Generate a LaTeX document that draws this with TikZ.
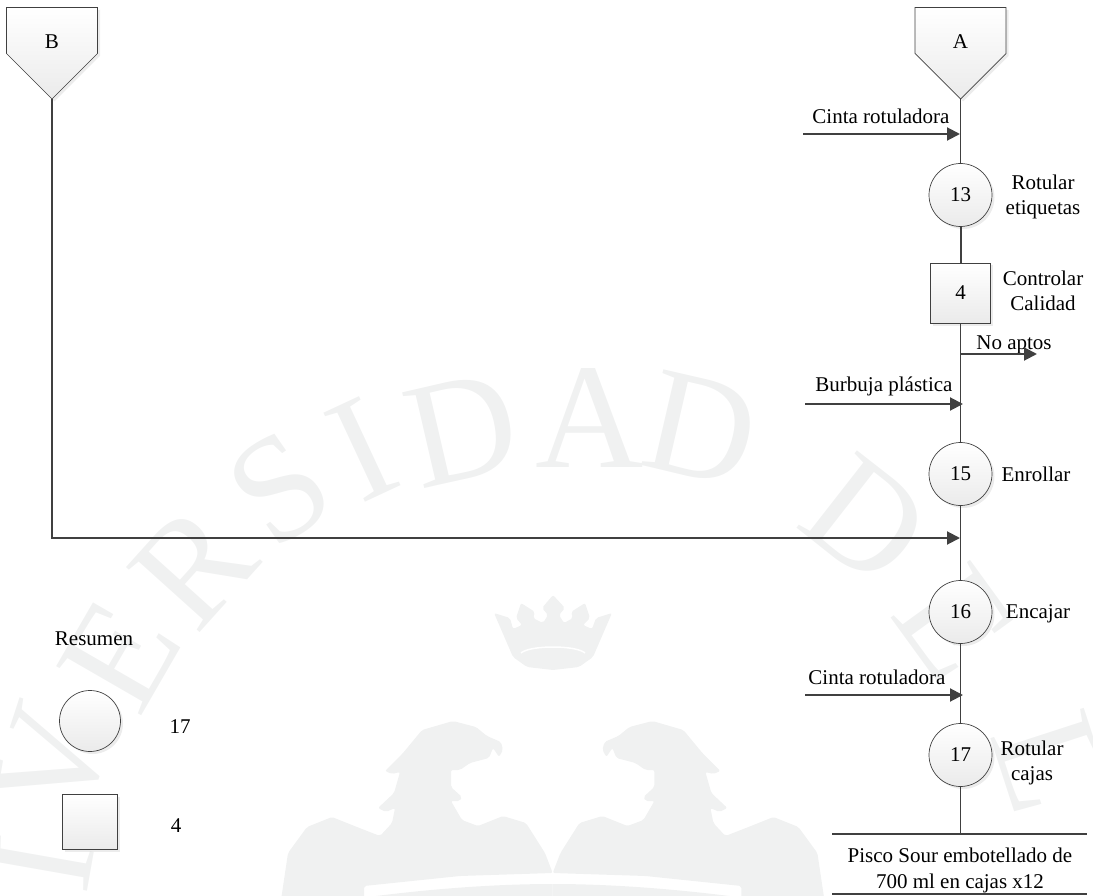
\documentclass[tikz,border=0pt]{standalone}
\usepackage{fontspec}
\setmainfont{Liberation Serif}
\usepackage{xcolor}
\usepackage{tikz}
\usetikzlibrary{shapes,arrows,arrows.meta,positioning,calc,shadows}

\definecolor{linegray}{HTML}{404040}
\definecolor{wmgray}{HTML}{F0F1F1}
\tikzset{
    x=1pt, y=-1pt,
    every node/.style={font=\fontsize{21}{25}\selectfont, align=center, inner sep=0pt, outer sep=0pt},
    figbox/.style={draw=linegray, line width=0.7pt, top color=white, bottom color=black!8,
        drop shadow={opacity=0.15, shadow xshift=2.5pt, shadow yshift=-2.5pt}},
    opcircle/.style={figbox, circle, minimum size=63pt},
    opsquare/.style={figbox, rectangle, minimum size=60pt},
    offpage/.style={figbox, signal, signal from=nowhere, signal to=south, signal pointer angle=90,
        text width=91pt, text height=41pt, text depth=5pt},
    flowline/.style={draw=linegray, line width=1.1pt},
    inarrow/.style={draw=linegray, line width=2pt, -{Triangle[length=13pt,width=13pt]}},
    endline/.style={draw=linegray, line width=1.6pt},
    wmletter/.style={text=wmgray, font=\fontsize{150}{150}\selectfont},
    eagle/.pic={
        \fill[wmgray, rounded corners=2pt] (281,900) -- (288,853) -- (307,827) -- (332,817) -- (357,827)
            -- (380,836) -- (392,823) -- (395,808) -- (386,812) -- (378,808) -- (394,793) -- (400,772)
            -- (392,774) -- (385,771) -- (403,753) -- (422,730) -- (453,721) -- (476,727) -- (487,736)
            -- (501,742) -- (503,750) -- (499,757) -- (493,748) -- (489,758) -- (470,763) -- (460,770)
            -- (451,770) -- (451,787) -- (462,797) -- (460,801) -- (451,801) -- (462,820) -- (478,826)
            -- (503,816) -- (526,823) -- (545,853) -- (552.7,873) -- (460,876) -- (364,886) -- (364,900) -- cycle;
        \fill[wmgray] (376,900) -- (376,896) .. controls (440,888) and (500,884) .. (552.7,884) -- (552.7,900) -- cycle;
    },
}

\begin{document}
\begin{tikzpicture}
    \useasboundingbox (0,0) rectangle (1093,896);
    % watermark
    \node (wI) [wmletter, rotate=80] at (42,863) {I};
    \node (wV) [wmletter, rotate=72] at (52,763) {V};
    \node (wE) [wmletter, rotate=60] at (120,655) {E};
    \node (wR) [wmletter, rotate=48] at (193,566) {R};
    \node (wS) [wmletter, rotate=35] at (280,488) {S};
    \node (wJ) [wmletter, rotate=25] at (362,449) {I};
    \node (wD) [wmletter, rotate=13] at (462,430) {D};
    \node (wA) [wmletter, rotate=0] at (590,418) {A};
    \node (wG) [wmletter, rotate=-13] at (701,429) {D};
    \node (wH) [wmletter, rotate=-38] at (866,520) {D};
    \node (wK) [wmletter, rotate=-54] at (955,623) {E};
    \node (wL) [wmletter, rotate=-72] at (1050,763) {L};
    \fill[wmgray, rounded corners=2pt] (494,613) -- (510,618) -- (513,629) -- (522,625) -- (516,618) -- (521,603)
        -- (535,612) -- (533,618) -- (543,623) -- (548,615) -- (542,608) -- (553,595) -- (565,608) -- (559,615)
        -- (564,623) -- (573,618) -- (571,612) -- (585,603) -- (590,618) -- (583,625) -- (592,629) -- (596,618)
        -- (612,613) -- (593,657) -- (579,667) -- (553,670) -- (527,667) -- (513,657) -- cycle;
    \draw[white, line width=1.5pt] (521,653) .. controls (530,645) and (576,645) .. (585,653);
    \pic at (0,0) {eagle};
    \pic[xscale=-1] at (1105.4,0) {eagle};
    % off-page connectors
    \node (B) [offpage, anchor=south] at (52,99) {B};
    \node (A) [offpage, anchor=south] at (960.5,99) {A};
    % main column
    \node (op13) [opcircle] at (960.5,195) {13};
    \node (ctl4) [opsquare] at (960.5,293) {4};
    \node (op15) [opcircle] at (960.5,474) {15};
    \node (op16) [opcircle] at (960.5,612) {16};
    \node (op17) [opcircle] at (960.5,755) {17};
    % end product
    \coordinate (endl) at (832,834);
    \coordinate (endr) at (1087,834);
    \coordinate (endm) at (960.5,834);
    \coordinate (bl) at (832,894);
    \coordinate (br) at (1087,894);
    \node (prod) at (960,870) {Pisco Sour embotellado de\\[1pt]700 ml en cajas x12};
    % step labels
    \node (t13) at (1043,197) {Rotular\\etiquetas};
    \node (t4) at (1043,291) {Controlar\\Calidad};
    \node (t15) at (1036,474) {Enrollar};
    \node (t16) at (1038,614) {Encajar};
    \node (t17) at (1032,763) {Rotular\\cajas};
    % inputs
    \coordinate (s1) at (803,134);
    \coordinate (e1) at (960,134);
    \node (cinta1) at (881,116) {Cinta rotuladora};
    \coordinate (s2) at (805,404);
    \coordinate (e2) at (963,404);
    \node (burbuja) at (884,386) {Burbuja plástica};
    \coordinate (s3) at (805,695);
    \coordinate (e3) at (963,695);
    \node (cinta2) at (877,677) {Cinta rotuladora};
    \coordinate (s4) at (960,354);
    \coordinate (e4) at (1037,354);
    \node (noaptos) at (1014,345) {No aptos};
    \coordinate (corner) at (52,538);
    \coordinate (e5) at (960,538);
    % summary
    \node (res) at (94,639) {Resumen};
    \node (sumc) [opcircle, minimum size=61pt] at (90,721) {};
    \node (sums) [opsquare, minimum size=55pt] at (89.5,821.5) {};
    \node (n17) at (180,727) {17};
    \node (n4) at (176,826) {4};
    % connectors
    \draw[flowline] (A.south) -- (op13);
    \draw[flowline, line width=2pt] (op13) -- (ctl4);
    \draw[flowline] (ctl4) -- (op15);
    \draw[flowline] (op15) -- (op16);
    \draw[flowline] (op16) -- (op17);
    \draw[flowline] (op17) -- (endm);
    \draw[endline] (endl) -- (endr);
    \draw[endline] (bl) -- (br);
    \draw[inarrow] (s1) -- (e1);
    \draw[inarrow] (s2) -- (e2);
    \draw[inarrow] (s3) -- (e3);
    \draw[inarrow] (s4) -- (e4);
    \draw[inarrow] (B.south) -- (corner) -- (e5);
\end{tikzpicture}
\end{document}
